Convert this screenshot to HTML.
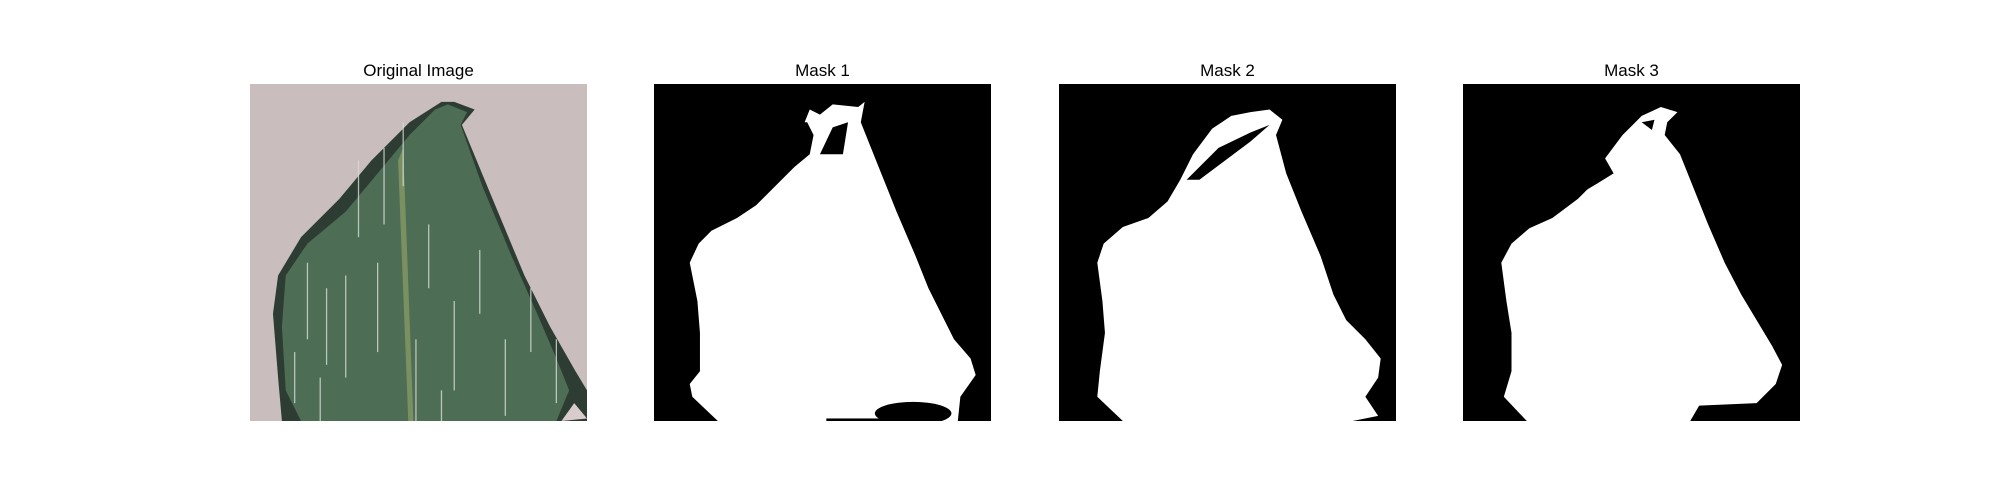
<!DOCTYPE html>
<html><head><meta charset="utf-8"><style>
body{margin:0;background:#fff;width:2000px;height:500px;overflow:hidden;font-family:"Liberation Sans","DejaVu Sans",sans-serif}
.t{position:absolute;top:61px;width:337px;text-align:center;font-size:17px;color:#000}
svg.p{position:absolute;top:84px;width:337px;height:337px}
</style></head><body>
<div class="t" style="left:250px">Original Image</div>
<div class="t" style="left:654px">Mask 1</div>
<div class="t" style="left:1059px">Mask 2</div>
<div class="t" style="left:1463px">Mask 3</div>

<svg class="p" style="left:250px" viewBox="0 0 264 264" preserveAspectRatio="none">
<rect width="264" height="264" fill="#c9bdbd"/>
<polygon points="160,14 176,20 166,32 190,90 215,150 235,190 255,225 264,240 264,264 25,264 22,230 18,180 22,150 40,120 70,90 95,60 125,30 150,14" fill="#2e3d33"/>
<polygon points="155,16 170,22 165,32 182,80 205,135 225,180 240,215 250,240 240,264 40,264 28,240 25,190 28,150 45,125 75,100 100,70 125,40 145,20" fill="#4d6e55"/>
<polygon points="120,50 128,264 124,264 116,60" fill="#7a9060"/>
<g stroke="#d8dcd8" stroke-width="1" opacity="0.8">
<line x1="85" y1="60" x2="85" y2="120"/><line x1="105" y1="50" x2="105" y2="110"/><line x1="120" y1="30" x2="120" y2="80"/>
<line x1="60" y1="160" x2="60" y2="220"/><line x1="75" y1="150" x2="75" y2="230"/><line x1="100" y1="140" x2="100" y2="210"/>
<line x1="140" y1="110" x2="140" y2="160"/><line x1="160" y1="170" x2="160" y2="240"/><line x1="180" y1="130" x2="180" y2="180"/>
<line x1="200" y1="200" x2="200" y2="260"/><line x1="220" y1="160" x2="220" y2="210"/><line x1="240" y1="200" x2="240" y2="250"/>
<line x1="55" y1="230" x2="55" y2="264"/><line x1="150" y1="240" x2="150" y2="264"/><line x1="130" y1="200" x2="130" y2="264"/>
<line x1="45" y1="140" x2="45" y2="200"/><line x1="35" y1="210" x2="35" y2="250"/>
</g>
<polygon points="244,264 254,250 264,262" fill="#d9cccc"/>
</svg>

<svg class="p" style="left:654px" viewBox="0 0 264 264" preserveAspectRatio="none">
<rect width="264" height="264" fill="#000"/>
<polygon points="118,30 122,20 130,24 140,16 160,18 165,14 162,30 168,45 178,70 190,100 205,135 215,160 225,180 235,200 248,215 252,228 240,245 238,264 50,264 30,245 28,235 36,225 36,195 34,170 28,140 35,125 45,115 65,105 80,95 95,80 110,65 122,55 125,40 120,30" fill="#fff"/>
<polygon points="130,55 140,34 152,30 148,55" fill="#000"/>
<ellipse cx="203" cy="258" rx="30" ry="9" fill="#000"/>
<rect x="135" y="262" width="70" height="2" fill="#000"/>
</svg>

<svg class="p" style="left:1059px" viewBox="0 0 264 264" preserveAspectRatio="none">
<rect width="264" height="264" fill="#000"/>
<polygon points="95,75 105,55 120,35 135,25 150,22 165,20 175,28 170,40 178,70 190,100 205,135 215,165 225,185 240,200 252,215 250,230 240,245 250,260 230,264 50,264 30,245 32,225 36,195 34,170 30,140 35,125 50,112 70,105 85,92 95,75" fill="#fff"/>
<polygon points="100,75 125,50 150,38 165,32 150,45 130,60 110,75" fill="#000"/>
</svg>

<svg class="p" style="left:1463px" viewBox="0 0 264 264" preserveAspectRatio="none">
<rect width="264" height="264" fill="#000"/>
<polygon points="110,60 125,40 140,25 155,18 168,22 160,30 158,40 170,55 180,80 192,110 205,140 218,165 230,185 242,205 250,220 245,235 230,250 185,252 178,264 50,264 32,245 38,225 38,195 34,170 30,140 38,125 52,113 70,105 90,90 105,75" fill="#fff"/>
<polygon points="88,80 100,60 110,56 118,70 105,78 95,84" fill="#000"/>
<polygon points="140,30 150,28 148,36" fill="#000"/>
</svg>
</body></html>
